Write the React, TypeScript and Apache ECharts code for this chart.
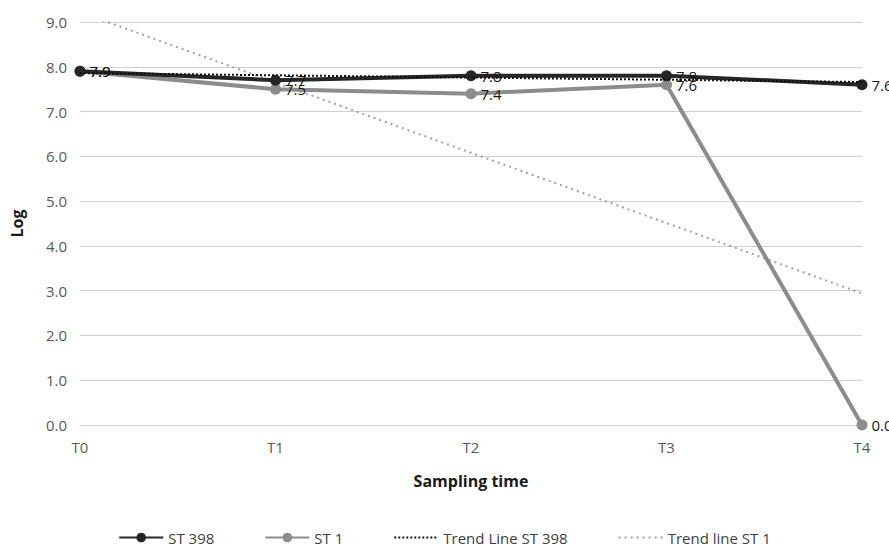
import React, { useEffect, useRef } from "react";
import * as echarts from "echarts";

const categories = ["T0", "T1", "T2", "T3", "T4"];
const st398 = [7.9, 7.7, 7.8, 7.8, 7.6];
const st1 = [7.9, 7.5, 7.4, 7.6, 0.0];
const trend398 = [7.86, 7.81, 7.76, 7.71, 7.66];
const trendSt1 = [9.22, 7.65, 6.08, 4.51, 2.94];
const yTicks = { min: 0, max: 9, interval: 1 };

const FONT = "'Open Sans', 'Noto Sans', sans-serif";

export default function App() {
  const ref = useRef<HTMLDivElement>(null);
  useEffect(() => {
    document.body.style.margin = "0";
    if (!ref.current) return;
    const chart = echarts.init(ref.current, undefined, { renderer: "svg" });
    const label = {
      show: true,
      position: "right" as const,
      distance: 4,
      color: "#1a1a1a",
      fontSize: 15,
      fontFamily: FONT,
      formatter: (p: any) => Number(p.value).toFixed(1),
    };
    chart.setOption({
      animation: false,
      backgroundColor: "#ffffff",
      textStyle: { fontFamily: FONT },
      grid: { left: 80, right: 27, top: 22, bottom: 125, containLabel: false },
      xAxis: {
        type: "category",
        data: categories,
        boundaryGap: false,
        name: "Sampling time",
        nameLocation: "middle",
        nameGap: 48,
        nameTextStyle: { fontWeight: "bold", fontSize: 16, color: "#1a1a1a", fontFamily: FONT },
        axisLine: { show: true, lineStyle: { color: "#d0d0d0", width: 1 } },
        axisTick: { show: false },
        axisLabel: { color: "#595959", fontSize: 15, margin: 14, fontFamily: FONT },
      },
      yAxis: {
        type: "value",
        min: yTicks.min,
        max: yTicks.max,
        interval: yTicks.interval,
        name: "Log",
        nameLocation: "middle",
        nameGap: 55,
        nameRotate: 90,
        nameTextStyle: { fontWeight: "bold", fontSize: 16, color: "#1a1a1a", fontFamily: FONT },
        axisLine: { show: false },
        axisTick: { show: false },
        axisLabel: {
          color: "#595959",
          fontSize: 15,
          margin: 13,
          fontFamily: FONT,
          formatter: (v: number) => v.toFixed(1),
        },
        splitLine: { lineStyle: { color: "#d0d0d0", width: 1 } },
      },
      legend: {
        bottom: 0,
        left: "center",
        itemWidth: 44,
        itemHeight: 12,
        itemGap: 50,
        textStyle: { color: "#404040", fontSize: 15, fontFamily: FONT },
        data: [
          "ST 398",
          "ST 1",
          { name: "Trend Line ST 398", itemStyle: { opacity: 0 } },
          { name: "Trend line ST 1", itemStyle: { opacity: 0 } },
        ],
      },
      series: [
        {
          name: "Trend line ST 1",
          type: "line",
          data: trendSt1,
          symbol: "none",
          clip: true,
          lineStyle: { color: "#a0a0a0", width: 2, type: [2, 4] },
          itemStyle: { color: "#a0a0a0" },
          z: 1,
        },
        {
          name: "ST 1",
          type: "line",
          data: st1,
          symbol: "circle",
          symbolSize: 11,
          lineStyle: { color: "#8c8c8c", width: 4 },
          itemStyle: { color: "#8c8c8c" },
          label,
          z: 2,
        },
        {
          name: "ST 398",
          type: "line",
          data: st398,
          symbol: "circle",
          symbolSize: 11,
          lineStyle: { color: "#262626", width: 4 },
          itemStyle: { color: "#262626" },
          label,
          z: 3,
        },
        {
          name: "Trend Line ST 398",
          type: "line",
          data: trend398,
          symbol: "none",
          lineStyle: { color: "#111111", width: 2, type: [2, 2] },
          itemStyle: { color: "#111111" },
          z: 4,
        },
      ],
    });
    return () => chart.dispose();
  }, []);
  return <div ref={ref} style={{ width: 889, height: 550 }} />;
}
